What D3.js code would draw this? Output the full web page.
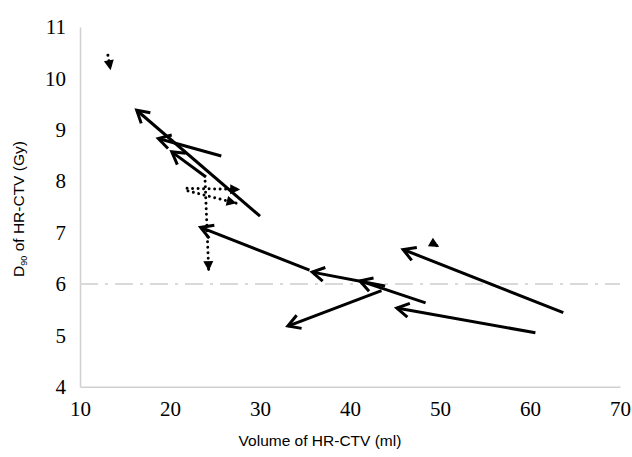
<!DOCTYPE html>
<meta charset="utf-8">
<style>
body { margin: 0; background: #fff; }
.tick text { font-family: "Liberation Serif", serif; font-size: 21px; fill: #000; }
.title { font-family: "Liberation Sans", Arial, sans-serif; font-size: 15.5px; fill: #000; }
</style>
<body>
<div id="chart"></div>
<script src="https://cdn.jsdelivr.net/npm/d3@7"></script>
<script>

var width = 632,
    height = 457;

// solid arrows (start -> end), volume in ml, D90 in Gy
var solidFromVol = [30.0, 25.7, 24.0, 35.5, 48.4, 43.9, 43.5, 63.7, 60.6];
var solidFromD90 = [7.32, 8.49, 8.08, 6.27, 5.63, 5.96, 5.87, 5.44, 5.05];
var solidToVol   = [16.3, 18.7, 20.2, 23.4, 41.1, 35.8, 33.1, 45.9, 45.2];
var solidToD90   = [9.38, 8.83, 8.57, 7.10, 6.06, 6.23, 5.18, 6.67, 5.53];

// dotted arrows
var dotFromVol = [21.9, 22.0, 23.9, 13.1, 49.1];
var dotFromD90 = [7.86, 7.81, 8.00, 10.45, 6.80];
var dotToVol   = [27.8, 27.4, 24.3, 13.4, 49.9];
var dotToD90   = [7.84, 7.57, 6.25, 10.16, 6.72];

var xTicks = [10, 20, 30, 40, 50, 60, 70];
var yTicks = [4, 5, 6, 7, 8, 9, 10, 11];
var threshold = 6;

var x = d3.scaleLinear().domain([10, 70]).range([80, 620]);
var y = d3.scaleLinear().domain([4, 11]).range([386.7, 27]);

var svg = d3.select("#chart")
    .append("svg")
    .attr("width", width)
    .attr("height", height);

var defs = svg.append("defs");

defs.append("marker")
    .attr("id", "open")
    .attr("markerUnits", "userSpaceOnUse")
    .attr("viewBox", "-16 -10 20 20")
    .attr("markerWidth", 20)
    .attr("markerHeight", 20)
    .attr("refX", 0)
    .attr("refY", 0)
    .attr("orient", "auto")
  .append("path")
    .attr("d", "M-12,-7L0,0L-12,7")
    .attr("fill", "none")
    .attr("stroke", "#000")
    .attr("stroke-width", 3);

defs.append("marker")
    .attr("id", "tri")
    .attr("markerUnits", "userSpaceOnUse")
    .attr("viewBox", "-14 -8 16 16")
    .attr("markerWidth", 16)
    .attr("markerHeight", 16)
    .attr("refX", 0)
    .attr("refY", 0)
    .attr("orient", "auto")
  .append("path")
    .attr("d", "M-10,-5L0,0L-10,5Z")
    .attr("fill", "#000");

// axes
svg.append("g")
    .attr("transform", "translate(0," + y(4) + ")")
    .call(d3.axisBottom(x).tickValues(xTicks).tickFormat(d3.format("d")).tickSize(0).tickPadding(14));

svg.append("g")
    .attr("transform", "translate(" + x(10) + ",0)")
    .call(d3.axisLeft(y).tickValues(yTicks).tickFormat(d3.format("d")).tickSize(0).tickPadding(14));

svg.selectAll(".domain")
    .attr("stroke", "#d0d0d0")
    .attr("stroke-width", 1.5);

// threshold line
svg.append("line")
    .attr("x1", x(10)).attr("x2", x(70))
    .attr("y1", y(threshold)).attr("y2", y(threshold))
    .attr("stroke", "#d9d9d9")
    .attr("stroke-width", 2)
    .attr("stroke-dasharray", "18 7 3 7");

// solid arrows
svg.append("g").selectAll("line")
    .data(d3.range(solidFromVol.length))
    .join("line")
    .attr("x1", function(i) { return x(solidFromVol[i]); })
    .attr("y1", function(i) { return y(solidFromD90[i]); })
    .attr("x2", function(i) { return x(solidToVol[i]); })
    .attr("y2", function(i) { return y(solidToD90[i]); })
    .attr("stroke", "#000")
    .attr("stroke-width", 3)
    .attr("marker-end", "url(#open)");

// dotted arrows
svg.append("g").selectAll("line")
    .data(d3.range(dotFromVol.length))
    .join("line")
    .attr("x1", function(i) { return x(dotFromVol[i]); })
    .attr("y1", function(i) { return y(dotFromD90[i]); })
    .attr("x2", function(i) { return x(dotToVol[i]); })
    .attr("y2", function(i) { return y(dotToD90[i]); })
    .attr("stroke", "#000")
    .attr("stroke-width", 3)
    .attr("stroke-linecap", "round")
    .attr("stroke-dasharray", "0.01 5.5")
    .attr("marker-end", "url(#tri)");

// titles
svg.append("text")
    .attr("class", "title")
    .attr("x", 320)
    .attr("y", 446)
    .attr("text-anchor", "middle")
    .text("Volume of HR-CTV (ml)");

var yt = svg.append("text")
    .attr("class", "title")
    .attr("transform", "translate(24,209) rotate(-90)")
    .attr("text-anchor", "middle");
yt.append("tspan").text("D");
yt.append("tspan").attr("font-size", "9px").attr("dy", 3).text("90");
yt.append("tspan").attr("dy", -3).text(" of HR-CTV (Gy)");

</script>
</body>
